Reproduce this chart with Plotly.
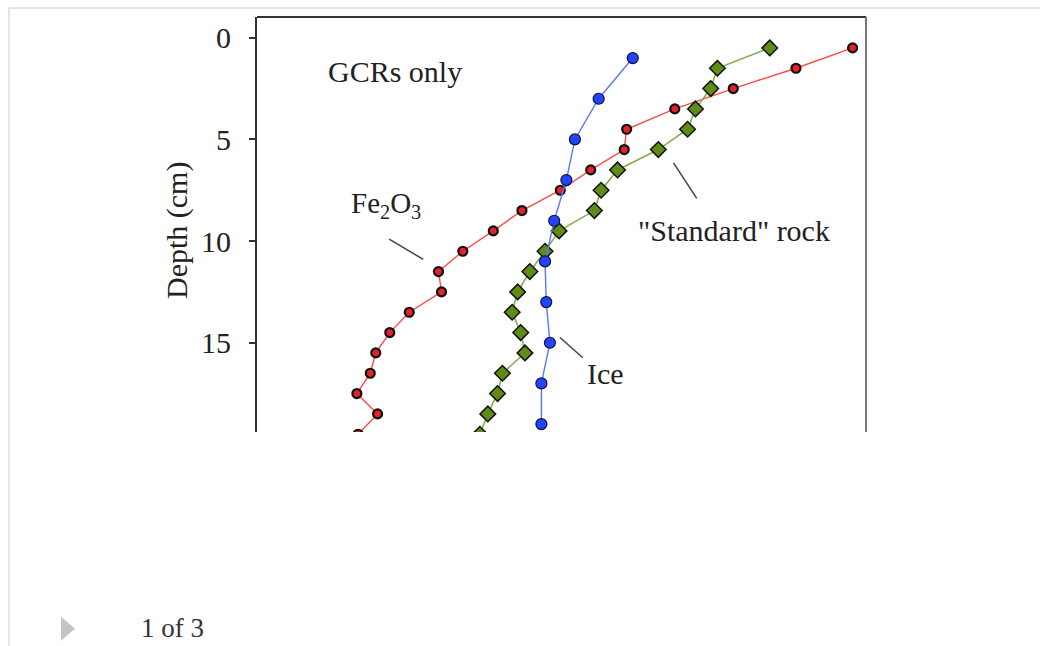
import plotly.graph_objects as go

# ---- data (x in arbitrary relative units, depth in cm) ----
fe_depth = [0.5, 1.5, 2.5, 3.5, 4.5, 5.5, 6.5, 7.5, 8.5, 9.5,
            10.5, 11.5, 12.5, 13.5, 14.5, 15.5, 16.5, 17.5, 18.5, 19.5]
fe_x = [97.8, 88.5, 78.2, 68.6, 60.7, 60.3, 54.8, 49.8, 43.5, 38.8,
        33.8, 29.8, 30.3, 25.0, 21.8, 19.5, 18.6, 16.4, 19.8, 16.6]

rock_depth = [0.5, 1.5, 2.5, 3.5, 4.5, 5.5, 6.5, 7.5, 8.5, 9.5,
              10.5, 11.5, 12.5, 13.5, 14.5, 15.5, 16.5, 17.5, 18.5, 19.5]
rock_x = [84.2, 75.6, 74.5, 72.0, 70.7, 65.9, 59.2, 56.5, 55.4, 49.6,
          47.3, 44.8, 42.8, 41.9, 43.3, 44.0, 40.3, 39.5, 37.9, 36.6]

ice_depth = [1, 3, 5, 7, 9, 11, 13, 15, 17, 19]
ice_x = [61.7, 56.1, 52.2, 50.8, 48.8, 47.3, 47.5, 48.1, 46.7, 46.7]

y_ticks = [0, 5, 10, 15]

W, H = 1040, 646
FONT = "Liberation Serif"


def px(x):
    return x / W


def py(y):
    return 1 - y / H


fig = go.Figure()

fig.add_trace(go.Scatter(
    x=fe_x, y=fe_depth, mode="lines+markers", name="Fe2O3",
    line=dict(color="#ff4a4a", width=1.4),
    marker=dict(symbol="circle", size=9, color="#e8202a",
                line=dict(color="#111111", width=2.2)),
))
fig.add_trace(go.Scatter(
    x=rock_x, y=rock_depth, mode="lines+markers", name="Standard rock",
    line=dict(color="#8aac55", width=1.6),
    marker=dict(symbol="diamond", size=12, color="#5e8c14",
                line=dict(color="#111111", width=1.5)),
))
fig.add_trace(go.Scatter(
    x=ice_x, y=ice_depth, mode="lines+markers", name="Ice",
    line=dict(color="#5a78ff", width=1.4),
    marker=dict(symbol="circle", size=11, color="#2244ff",
                line=dict(color="#111133", width=1.2)),
))

shapes = [
    # page frame
    dict(type="line", xref="paper", yref="paper", x0=px(9), x1=1, y0=py(8), y1=py(8),
         line=dict(color="#e6e6e6", width=2)),
    dict(type="line", xref="paper", yref="paper", x0=px(9), x1=px(9), y0=py(8), y1=0,
         line=dict(color="#e6e6e6", width=2)),
    # plot frame top and right
    dict(type="line", xref="paper", yref="paper", x0=px(257), x1=px(866), y0=py(17), y1=py(17),
         line=dict(color="#333333", width=2)),
    dict(type="line", xref="paper", yref="paper", x0=px(866), x1=px(866), y0=py(17), y1=py(432),
         line=dict(color="#777777", width=2)),
    # leader lines
    dict(type="line", xref="x", yref="y", x0=21.7, y0=9.9, x1=27.3, y1=10.9,
         line=dict(color="#444444", width=1.5)),
    dict(type="line", xref="x", yref="y", x0=68.4, y0=6.15, x1=72.2, y1=7.9,
         line=dict(color="#444444", width=1.5)),
    dict(type="line", xref="x", yref="y", x0=49.75, y0=14.74, x1=53.5, y1=15.74,
         line=dict(color="#444444", width=1.5)),
    # carousel triangle
    dict(type="path", xref="paper", yref="paper",
         path=f"M {px(61)},{py(616.7)} L {px(61)},{py(640.7)} L {px(75)},{py(628.7)} Z",
         fillcolor="#c4c4c4", line=dict(width=0)),
]

annotations = [
    dict(text="GCRs only", x=px(394.5), y=py(71), xref="paper", yref="paper",
         showarrow=False, xanchor="center", yanchor="middle",
         font=dict(family=FONT, size=30, color="#222222")),
    dict(text="Fe<sub>2</sub>O<sub>3</sub>", x=px(386), y=py(205), xref="paper", yref="paper",
         showarrow=False, xanchor="center", yanchor="middle",
         font=dict(family=FONT, size=29, color="#222222")),
    dict(text="\"Standard\" rock", x=px(733.5), y=py(230), xref="paper", yref="paper",
         showarrow=False, xanchor="center", yanchor="middle",
         font=dict(family=FONT, size=30, color="#222222")),
    dict(text="Ice", x=px(605.5), y=py(373), xref="paper", yref="paper",
         showarrow=False, xanchor="center", yanchor="middle",
         font=dict(family=FONT, size=30, color="#222222")),
    dict(text="Depth (cm)", x=px(177), y=py(231), xref="paper", yref="paper",
         showarrow=False, xanchor="center", yanchor="middle", textangle=-90,
         font=dict(family=FONT, size=30, color="#222222")),
    dict(text="1 of 3", x=px(139), y=py(628), xref="paper", yref="paper",
         showarrow=False, xanchor="left", yanchor="middle",
         font=dict(family=FONT, size=27, color="#333333")),
]

fig.update_layout(
    width=W, height=H,
    margin=dict(l=0, r=0, t=0, b=0),
    paper_bgcolor="white", plot_bgcolor="white",
    showlegend=False,
    shapes=shapes, annotations=annotations,
    xaxis=dict(domain=[px(257), px(866)], range=[0, 100], visible=False,
               showgrid=False, zeroline=False),
    yaxis=dict(domain=[py(432), py(17)], range=[19.39, -1.02],
               tickvals=y_ticks, ticktext=[str(v) for v in y_ticks],
               ticks="outside", ticklen=6, tickwidth=1.5, tickcolor="#333333",
               showline=True, linecolor="#333333", linewidth=2,
               showgrid=False, zeroline=False, ticklabelstandoff=12,
               tickfont=dict(family=FONT, size=30, color="#222222")),
)

fig.write_html("out.html")
